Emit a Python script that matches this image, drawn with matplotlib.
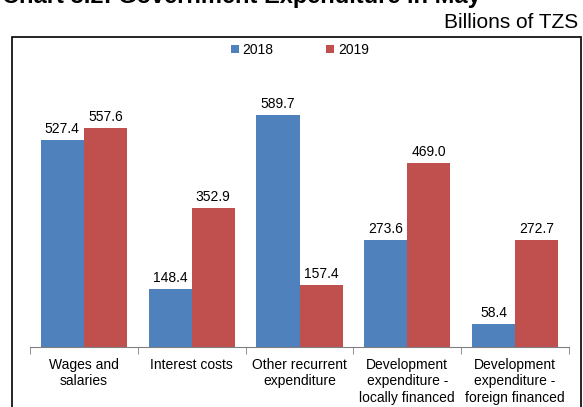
import numpy as np
import matplotlib.pyplot as plt
from matplotlib.patches import Rectangle

plt.rcParams['font.family'] = ['Liberation Sans', 'DejaVu Sans']

categories = ["Wages and\nsalaries", "Interest costs", "Other recurrent\nexpenditure",
              "Development\nexpenditure -\nlocally financed",
              "Development\nexpenditure -\nforeign financed"]
y2018 = [527.4, 148.4, 589.7, 273.6, 58.4]
y2019 = [557.6, 352.9, 157.4, 469.0, 272.7]

blue = '#4F81BD'
red = '#C0504D'

fig = plt.figure(figsize=(5.83, 4.07), dpi=100)
ax = fig.add_axes([30/583, 60/407, 539/583, 275/407])

x = np.arange(len(categories))
w = 0.4
b1 = ax.bar(x - w/2, y2018, w, color=blue, label='2018')
b2 = ax.bar(x + w/2, y2019, w, color=red, label='2019')
for bars, vals in ((b1, y2018), (b2, y2019)):
    for r, v in zip(bars, vals):
        ax.text(r.get_x() + r.get_width()/2, v + 10, f"{v:.1f}",
                ha='center', va='bottom', fontsize=10)

ax.set_xlim(-0.5, len(categories) - 0.5)
ax.set_ylim(0, 700)
ax.set_yticks([])
ax.set_xticks(x)
ax.set_xticklabels(categories, fontsize=10, linespacing=1.2)
ax.set_xticks(np.arange(-0.5, len(categories)), minor=True)
ax.tick_params(axis='x', which='major', length=0, pad=8)
ax.tick_params(axis='x', which='minor', length=5, color='#808080')
for s in ('top', 'right', 'left'):
    ax.spines[s].set_visible(False)
ax.spines['bottom'].set_color('#808080')

ax.legend(loc='center', bbox_to_anchor=(300/583, 1 - 50/407), bbox_transform=fig.transFigure,
          ncol=2, frameon=False, fontsize=10, handlelength=0.55, handleheight=0.55,
          columnspacing=3.8, handletextpad=0.3)

# outer frame
fig.patches.append(Rectangle((12/583, -0.05), 569/583, 1.05 - 37/407,
                             transform=fig.transFigure, fill=False,
                             edgecolor='black', linewidth=1.2, clip_on=False))

fig.text(578/583, 1 - 22/407, "Billions of TZS", ha='right', va='center', fontsize=15)
fig.text(2/583, 1 + 3/407, "Chart 3.2: Government Expenditure in May", ha='left',
         va='center', fontsize=17, fontweight='bold')

fig.savefig('out.png', dpi=100)
